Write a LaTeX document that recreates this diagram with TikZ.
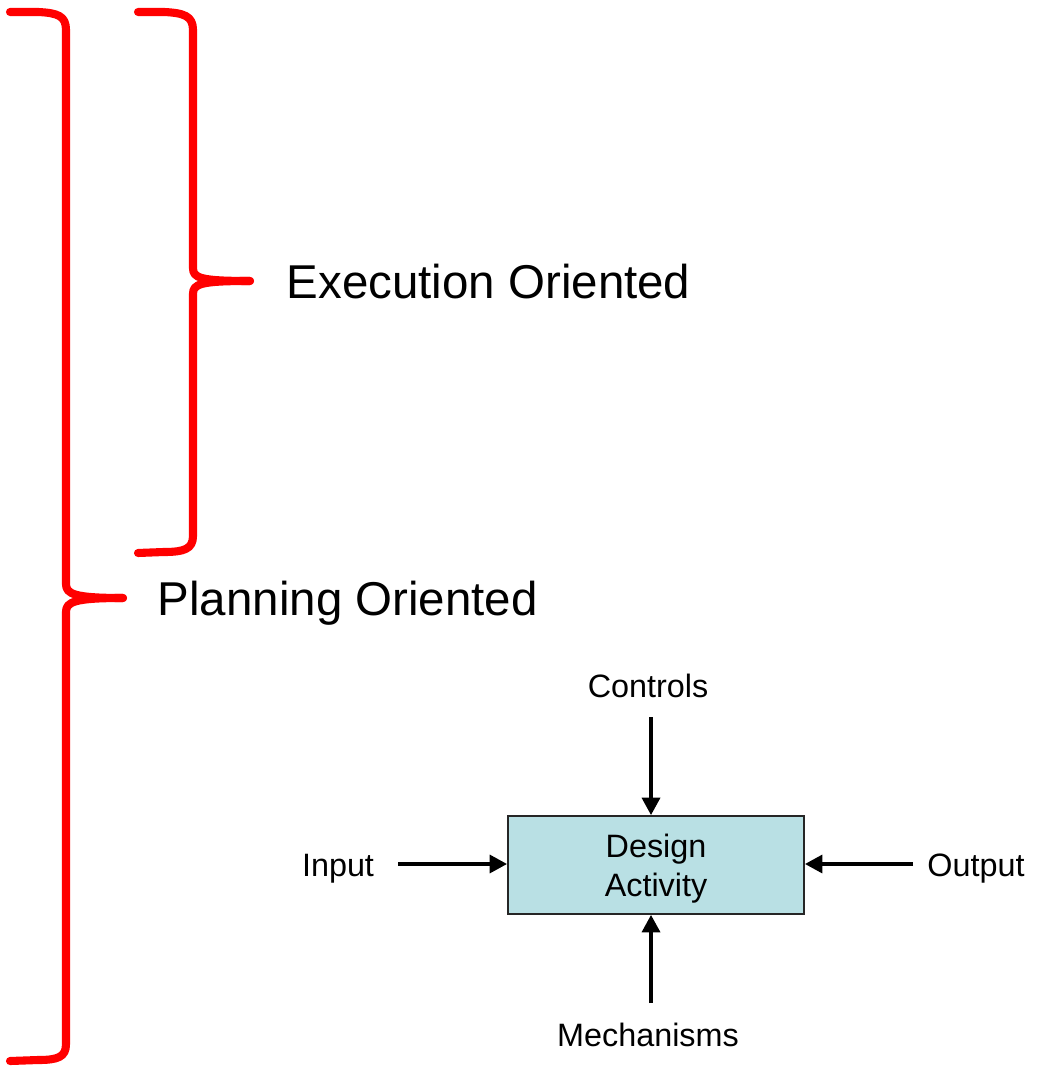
\documentclass[tikz,border=0pt]{standalone}
\usepackage{fontspec}
\setmainfont{Liberation Sans}
\usetikzlibrary{arrows.meta}
\definecolor{braceRed}{RGB}{255,0,0}
\definecolor{boxFill}{RGB}{185,224,228}
\tikzset{
  brace/.style={draw=braceRed, line width=2.3pt, line cap=round, line join=round},
  bigLabel/.style={font=\fontsize{13.5pt}{16pt}\selectfont, inner sep=0pt},
  smallLabel/.style={font=\fontsize{9.2pt}{11.1pt}\selectfont, inner sep=0pt, align=center},
  actBox/.style={draw=black!85, line width=0.4pt, fill=boxFill, minimum width=2.96cm,
    minimum height=0.98cm, inner sep=0pt},
  flow/.style={line width=1.35pt, -{Triangle[length=5pt,width=5pt]}}
}
\begin{document}
\begin{tikzpicture}[x=0.01cm, y=-0.01cm]
\useasboundingbox (0,0) rectangle (1036,1068);

% outer brace
\coordinate (outerTip) at (123,598);
\draw[brace] (10,12) -- (38,12) .. controls (58,13) and (66,16) .. (66,30)
  -- (66,584) .. controls (66,594) and (74,598) .. (outerTip);
\draw[brace] (outerTip) .. controls (74,598) and (66,602) .. (66,612)
  -- (66,1044) .. controls (66,1057) and (58,1060) .. (38,1060) -- (10,1061);

% inner brace
\coordinate (innerTip) at (250,281);
\draw[brace] (138,12) -- (164,12) .. controls (184,13) and (193,16) .. (193,30)
  -- (193,268) .. controls (193,278) and (200,281) .. (innerTip);
\draw[brace] (innerTip) .. controls (200,281) and (193,284) .. (193,294)
  -- (193,536) .. controls (193,549) and (184,552) .. (164,552) -- (138,553);

% brace labels
\node[bigLabel, anchor=west] (exec) at (286,282) {Execution Oriented};
\node[bigLabel, anchor=west] (plan) at (157,603) {Planning Oriented};

% activity box with its four flows
\node[actBox] (act) at (656,865) {};
\node[smallLabel] (actText) at (656,869) {Design\\Activity};
\node[smallLabel] (ctrl) at (648,686) {Controls};
\node[smallLabel] (inp) at (338,869) {Input};
\node[smallLabel] (outp) at (976,869) {Output};
\node[smallLabel] (mech) at (648,1035) {Mechanisms};

\coordinate (ctrlStart) at (651,717);
\coordinate (inpStart) at (398,864);
\coordinate (outpStart) at (913,864);
\coordinate (mechStart) at (651,1003);

\draw[flow] (ctrlStart) -- (act.north -| ctrlStart);
\draw[flow] (inpStart) -- (act.west |- inpStart);
\draw[flow] (outpStart) -- (act.east |- outpStart);
\draw[flow] (mechStart) -- (act.south -| mechStart);
\end{tikzpicture}
\end{document}
